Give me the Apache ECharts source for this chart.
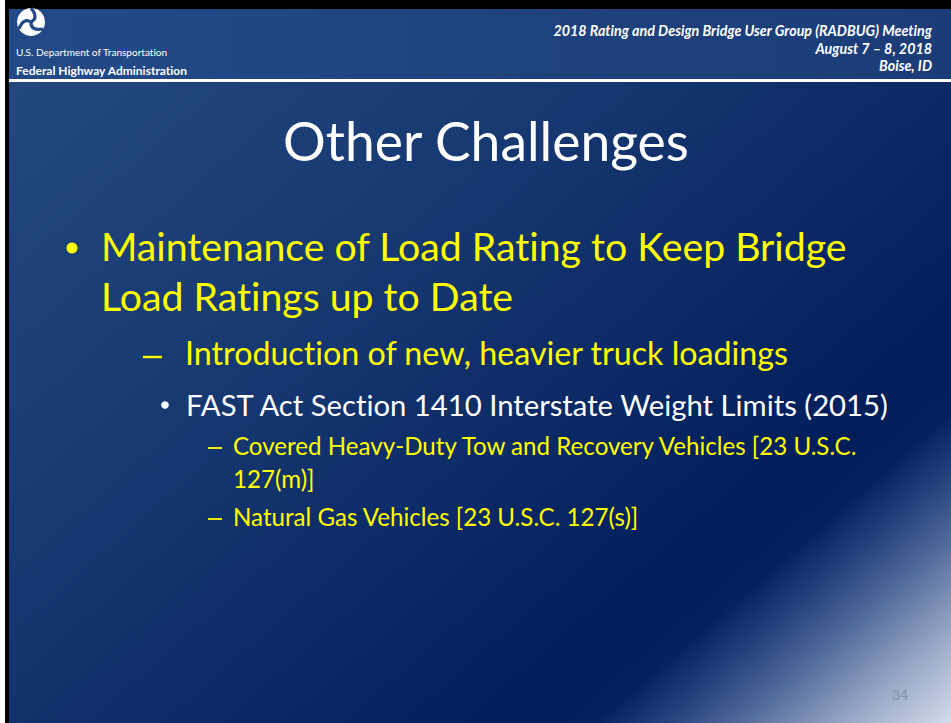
<!DOCTYPE html>
<html>
<head>
<meta charset="utf-8">
<script src="https://cdn.jsdelivr.net/npm/echarts@6/dist/echarts.min.js"></script>
<style>
html,body{margin:0;padding:0;background:#fff;}
#c{width:951px;height:723px;}
#c text{font-variant-ligatures:none;font-feature-settings:"liga" 0,"clig" 0;}
</style>
</head>
<body>
<div id="c"></div>
<script>
// ---- slide content ----
const headerLines = ['2018 Rating and Design Bridge User Group (RADBUG) Meeting', 'August 7 \u2013 8, 2018', 'Boise, ID'];
const agencyLines = ['U.S. Department of Transportation', 'Federal Highway Administration'];
const titleText = 'Other Challenges';
const level1Lines = ['Maintenance of Load Rating to Keep Bridge', 'Load Ratings up to Date'];
const level2Lines = ['Introduction of new, heavier truck loadings'];
const level3Lines = ['FAST Act Section 1410 Interstate Weight Limits (2015)'];
const level4Lines = ['Covered Heavy-Duty Tow and Recovery Vehicles [23 U.S.C.', '127(m)]', 'Natural Gas Vehicles [23 U.S.C. 127(s)]'];
const pageNumber = '34';

// ---- helpers ----
const FONT = 'Lato, "Open Sans", sans-serif';
const mcv = document.createElement('canvas');
const mctx = mcv.getContext('2d');
try { mctx.fontVariantLigatures = 'none'; } catch (e) {}
function fit(text, targetW, weight, style) {
  mctx.font = (style || 'normal') + ' ' + (weight || 'normal') + ' 100px ' + FONT;
  return 100 * targetW / mctx.measureText(text).width;
}
function txt(text, x, y, size, color, opts) {
  opts = opts || {};
  return {
    type: 'text', x: x, y: y - 0.065 * size, silent: true,
    style: {
      text: text, fill: color, fontFamily: FONT, fontSize: size,
      fontWeight: opts.weight || 'normal', fontStyle: opts.style || 'normal',
      align: opts.align || 'left', verticalAlign: 'middle'
    }
  };
}
function dash(x, y, w, t, color) {
  return { type: 'rect', shape: { x: x, y: y - t / 2, width: w, height: t }, style: { fill: color } };
}

const W = 951, H = 723;
const els = [];
// outer frame
els.push({ type: 'rect', shape: { x: 0, y: 0, width: W, height: H }, style: { fill: '#ffffff' } });
els.push({ type: 'rect', shape: { x: 5, y: 0, width: W - 5, height: H }, style: { fill: '#000000' } });
// body background: diagonal gradient, light wedge in the lower right corner
els.push({ type: 'rect', shape: { x: 9, y: 82, width: W - 9, height: H - 82 },
  style: { fill: new echarts.graphic.LinearGradient(0, 0, 769, 882, [
    { offset: 0, color: '#254a81' }, { offset: 0.35, color: '#183a73' },
    { offset: 0.55, color: '#0e2c67' }, { offset: 0.76, color: '#001f5a' },
    { offset: 0.8, color: '#04235e' }, { offset: 0.835, color: '#223f7b' },
    { offset: 0.875, color: '#4b6497' }, { offset: 0.94, color: '#97a7c5' },
    { offset: 1, color: '#d3dcec' }
  ], true) } });
// header band
els.push({ type: 'rect', shape: { x: 9, y: 9, width: W - 9, height: 70 },
  style: { fill: new echarts.graphic.LinearGradient(0, 0, 1, 0, [
    { offset: 0, color: '#234a87' }, { offset: 1, color: '#1b3c77' }]) } });
els.push({ type: 'rect', shape: { x: 9, y: 79, width: W - 9, height: 3 }, style: { fill: '#ffffff' } });

// logo
const lcx = 31, lcy = 22, lr = 14;
els.push({ type: 'circle', shape: { cx: lcx, cy: lcy, r: lr }, style: { fill: '#ffffff' } });
for (let k = 0; k < 3; k++) {
  const a = -Math.PI / 2 + k * 2 * Math.PI / 3;
  const ex = lcx + lr * Math.cos(a), ey = lcy + lr * Math.sin(a);
  const ca = a + 1.1;
  els.push({ type: 'bezierCurve', shape: {
      x1: lcx, y1: lcy, x2: ex, y2: ey,
      cpx1: lcx + 9 * Math.cos(ca), cpy1: lcy + 9 * Math.sin(ca) },
    style: { stroke: '#234a87', lineWidth: 3.2, fill: null } });
}
els.push(txt(agencyLines[0], 16, 53, fit(agencyLines[0], 152), '#ffffff'));
els.push(txt(agencyLines[1], 16, 71, fit(agencyLines[1], 172, 'bold'), '#ffffff', { weight: 'bold' }));

// header meeting info
const hSize = fit(headerLines[0], 379, 'bold', 'italic');
const hY = [31, 49, 66];
headerLines.forEach((t, i) => els.push(txt(t, 932, hY[i], hSize, '#ffffff', { weight: 'bold', style: 'italic', align: 'right' })));

// title
els.push(txt(titleText, 486, 143, fit(titleText, 407), '#ffffff', { align: 'center' }));

// level 1
const s1 = fit(level1Lines[0], 747);
els.push({ type: 'circle', shape: { cx: 72, cy: 248, r: 5.5 }, style: { fill: '#ffff00' } });
els.push(txt(level1Lines[0], 101, 248, s1, '#ffff00'));
els.push(txt(level1Lines[1], 101, 298, s1, '#ffff00'));

// level 2
const s2 = fit(level2Lines[0], 605);
els.push(dash(143, 357, 19, 2.4, '#ffff00'));
els.push(txt(level2Lines[0], 185, 355, s2, '#ffff00'));

// level 3
const s3 = fit(level3Lines[0], 705);
els.push({ type: 'circle', shape: { cx: 165, cy: 405, r: 3.8 }, style: { fill: '#ffffff' } });
els.push(txt(level3Lines[0], 186, 406, s3, '#ffffff'));

// level 4
const s4 = fit(level4Lines[0], 627);
els.push(dash(208, 448, 14, 1.8, '#ffff00'));
els.push(txt(level4Lines[0], 233, 447, s4, '#ffff00'));
els.push(txt(level4Lines[1], 233, 480, s4, '#ffff00'));
els.push(dash(208, 519, 14, 1.8, '#ffff00'));
els.push(txt(level4Lines[2], 233, 518, s4, '#ffff00'));

// page number
els.push(txt(pageNumber, 900, 695, 14, '#8a90a0', { align: 'center' }));

const chart = echarts.init(document.getElementById('c'), null, { renderer: 'svg', width: W, height: H });
chart.setOption({ animation: false, graphic: { elements: els } });
</script>
</body>
</html>
